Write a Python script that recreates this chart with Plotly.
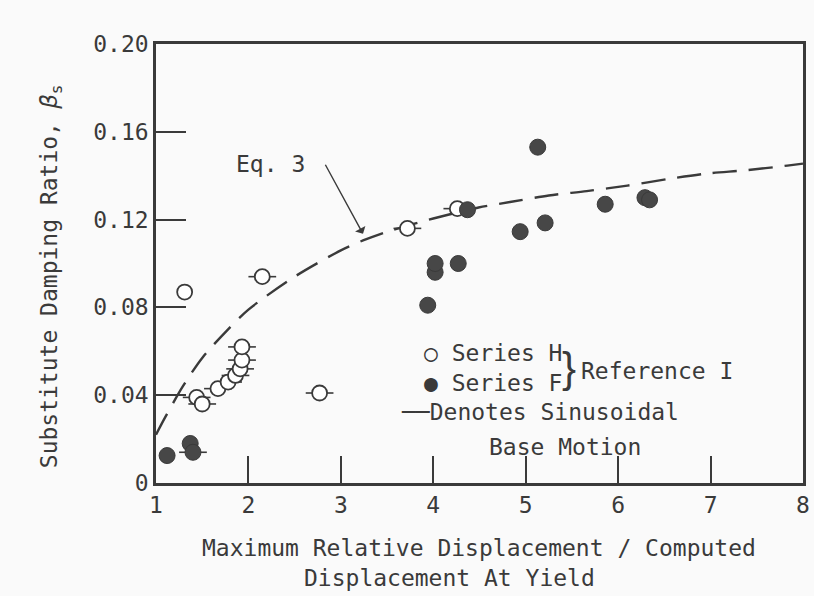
import plotly.graph_objects as go

# ---- data ----
# Series H (open circles)
h_x = [1.31, 1.44, 1.50, 1.67, 1.78, 1.86, 1.91, 1.93, 1.93, 2.15, 2.77, 3.72, 4.26]
h_y = [0.087, 0.039, 0.036, 0.043, 0.046, 0.049, 0.052, 0.056, 0.062, 0.094, 0.041, 0.116, 0.125]
h_sin = [0, 0.15, 0.15, 0.15, 0.15, 0.15, 0.15, 0.15, 0.15, 0.15, 0.15, 0.15, 0.15]

# Series F (filled circles)
f_x = [1.12, 1.37, 1.40, 3.94, 4.02, 4.02, 4.27, 4.37, 4.94, 5.13, 5.21, 5.86, 6.29, 6.34]
f_y = [0.0125, 0.018, 0.014, 0.081, 0.096, 0.100, 0.100, 0.1245, 0.1145, 0.153, 0.1185, 0.127, 0.130, 0.129]
f_sin = [0, 0, 0.15, 0, 0, 0, 0, 0, 0, 0, 0, 0, 0, 0]

# Eq. 3 curve
eq_x = [1.0, 1.1, 1.29, 1.5, 1.78, 2.0, 2.5, 3.0, 3.24, 3.5, 4.0, 4.49, 4.83, 5.25,
        5.66, 6.1, 6.54, 6.96, 7.39, 7.83, 8.0]
eq_y = [0.022, 0.030, 0.044, 0.057, 0.070, 0.079, 0.094, 0.106, 0.1105, 0.1145, 0.1205,
        0.1255, 0.128, 0.131, 0.133, 0.1355, 0.1385, 0.141, 0.1425, 0.1446, 0.1455]

x_ticks = [1, 2, 3, 4, 5, 6, 7, 8]
x_ticklabels = ["1", "2", "3", "4", "5", "6", "7", "8"]
y_ticks = [0, 0.04, 0.08, 0.12, 0.16, 0.20]
y_ticklabels = ["0", "0.04", "0.08", "0.12", "0.16", "0.20"]

INK = "#3a3a3a"
FONT = "DejaVu Sans Mono"
BG = "#fafafa"

fig = go.Figure()

fig.add_trace(go.Scatter(
    x=eq_x, y=eq_y, mode="lines",
    line=dict(color=INK, width=2.4, dash="24px,12px", shape="spline", smoothing=0.8),
    showlegend=False, hoverinfo="skip"))

fig.add_trace(go.Scatter(
    x=h_x, y=h_y, mode="markers",
    marker=dict(symbol="circle", size=15, color="white", line=dict(color=INK, width=1.8)),
    error_x=dict(type="data", array=h_sin, symmetric=True, width=0, thickness=1.6, color=INK),
    showlegend=False))

fig.add_trace(go.Scatter(
    x=f_x, y=f_y, mode="markers",
    marker=dict(symbol="circle", size=16, color="#474747", line=dict(color=INK, width=1)),
    error_x=dict(type="data", array=f_sin, symmetric=True, width=0, thickness=1.6, color=INK),
    showlegend=False))

tickfont = dict(family=FONT, size=23, color=INK)

fig.update_layout(
    template="none",
    width=814, height=596,
    margin=dict(l=156, r=11, t=44, b=113),
    paper_bgcolor=BG, plot_bgcolor=BG,
    xaxis=dict(range=[1, 8], tickmode="array", tickvals=x_ticks, ticktext=x_ticklabels,
               ticks="inside", ticklen=27, tickwidth=2, tickcolor=INK,
               showline=True, linewidth=2.5, linecolor=INK, mirror=True,
               showgrid=False, zeroline=False, tickfont=tickfont),
    yaxis=dict(range=[0, 0.20], tickmode="array", tickvals=y_ticks, ticktext=y_ticklabels,
               ticks="inside", ticklen=30, tickwidth=2, tickcolor=INK,
               showline=True, linewidth=2.5, linecolor=INK, mirror=True,
               showgrid=False, zeroline=False, tickfont=tickfont),
)

afont = dict(family=FONT, size=23, color=INK)
annotations = [
    # axis titles
    dict(text="Maximum Relative Displacement / Computed", xref="paper", yref="paper",
         x=0.499, y=-0.148, xanchor="center", yanchor="middle", showarrow=False, font=afont),
    dict(text="Displacement At Yield", xref="paper", yref="paper",
         x=0.454, y=-0.216, xanchor="center", yanchor="middle", showarrow=False, font=afont),
    dict(text="Substitute Damping Ratio, <i>β</i><sub>s</sub>", xref="paper", yref="paper",
         x=-0.163, y=0.47, xanchor="center", yanchor="middle", textangle=-90,
         showarrow=False, font=afont),
    # Eq. 3 label and arrow
    dict(text="Eq. 3", xref="x", yref="y", x=2.24, y=0.1455, xanchor="center",
         yanchor="middle", showarrow=False, font=afont),
    dict(text=" ", xref="x", yref="y", x=3.24, y=0.1135, axref="x", ayref="y",
         ax=2.80, ay=0.1475, showarrow=True, arrowhead=1, arrowsize=1.4,
         arrowwidth=1.4, arrowcolor=INK),
    # legend block
    dict(text="○ Series H", xref="x", yref="y", x=3.88, y=0.0592, xanchor="left",
         yanchor="middle", showarrow=False, font=afont),
    dict(text="● Series F", xref="x", yref="y", x=3.88, y=0.0456, xanchor="left",
         yanchor="middle", showarrow=False, font=afont),
    dict(text="}", xref="x", yref="y", x=5.47, y=0.0525, xanchor="center",
         yanchor="middle", showarrow=False,
         font=dict(family="Liberation Sans", size=42, color=INK)),
    dict(text="Reference I", xref="x", yref="y", x=5.58, y=0.0508, xanchor="left",
         yanchor="middle", showarrow=False, font=afont),
    dict(text="──Denotes Sinusoidal", xref="x", yref="y", x=3.63, y=0.0323, xanchor="left",
         yanchor="middle", showarrow=False, font=afont),
    dict(text="Base Motion", xref="x", yref="y", x=5.43, y=0.0164, xanchor="center",
         yanchor="middle", showarrow=False, font=afont),
]
fig.update_layout(annotations=annotations)

fig.write_html("out.html")
